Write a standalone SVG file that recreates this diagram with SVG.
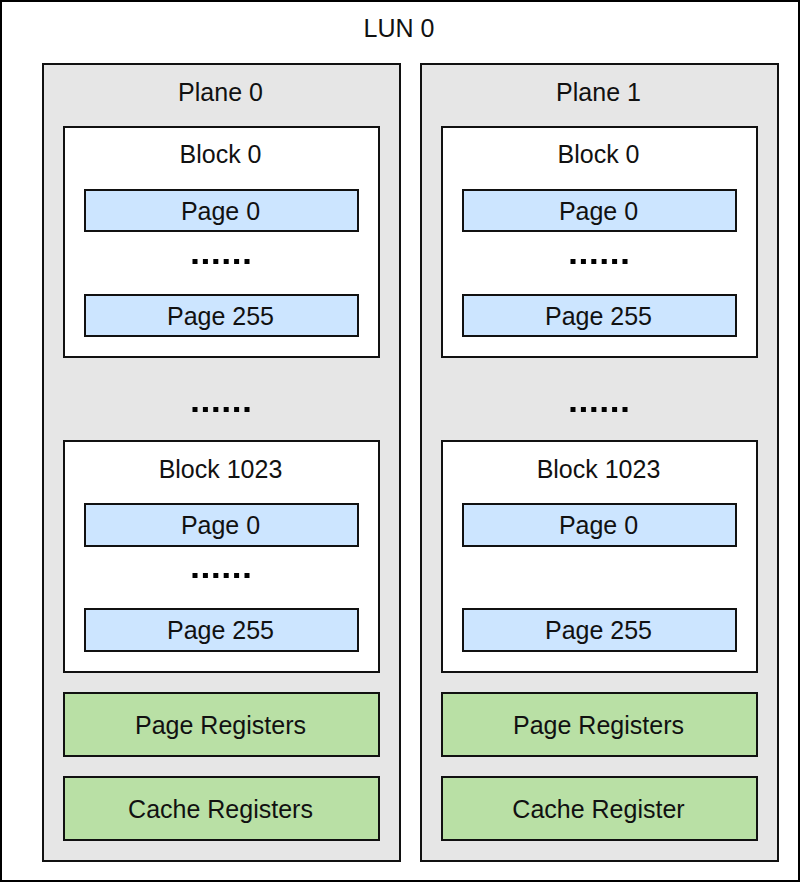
<svg xmlns="http://www.w3.org/2000/svg" width="800" height="883" viewBox="0 0 800 883">
<style>
text{font-family:"Liberation Sans",Arial,sans-serif;font-size:25px;fill:#111;text-anchor:middle}
.lun{fill:#fff;stroke:#000;stroke-width:2}
.plane{fill:#e6e6e6;stroke:#111;stroke-width:2}
.block{fill:#fff;stroke:#111;stroke-width:2}
.page{fill:#cce5ff;stroke:#111;stroke-width:2}
.reg{fill:#b9e0a5;stroke:#111;stroke-width:2}
.dot{fill:#000}
</style>
<defs>
<g id="dots">
<rect x="-28.5" y="0" width="5" height="5"/><rect x="-18.1" y="0" width="5" height="5"/><rect x="-7.7" y="0" width="5" height="5"/><rect x="2.7" y="0" width="5" height="5"/><rect x="13.1" y="0" width="5" height="5"/><rect x="23.5" y="0" width="5" height="5"/>
</g>
</defs>
<g id="lun0">
<rect class="lun" x="1" y="1" width="798" height="880"/>
<text x="399" y="37">LUN 0</text>
</g>
<g id="plane0">
<rect class="plane" x="43" y="64" width="357" height="797"/>
<text x="220.5" y="101">Plane 0</text>
<use href="#dots" x="221" y="407" class="dot"/>
</g>
<g id="plane1">
<rect class="plane" x="421" y="64" width="357" height="797"/>
<text x="598.5" y="101">Plane 1</text>
<use href="#dots" x="599" y="407" class="dot"/>
</g>
<g id="p0-block0">
<rect class="block" x="64" y="127" width="315" height="230"/>
<text x="220.5" y="163">Block 0</text>
<use href="#dots" x="221" y="259" class="dot"/>
</g>
<g id="p0-block0-page0"><rect class="page" x="85" y="190" width="273" height="41"/><text x="220.5" y="220">Page 0</text></g>
<g id="p0-block0-page255"><rect class="page" x="85" y="295" width="273" height="41"/><text x="220.5" y="325">Page 255</text></g>
<g id="p1-block0">
<rect class="block" x="442" y="127" width="315" height="230"/>
<text x="598.5" y="163">Block 0</text>
<use href="#dots" x="599" y="259" class="dot"/>
</g>
<g id="p1-block0-page0"><rect class="page" x="463" y="190" width="273" height="41"/><text x="598.5" y="220">Page 0</text></g>
<g id="p1-block0-page255"><rect class="page" x="463" y="295" width="273" height="41"/><text x="598.5" y="325">Page 255</text></g>
<g id="p0-block1023">
<rect class="block" x="64" y="441" width="315" height="231"/>
<text x="220.5" y="478">Block 1023</text>
<use href="#dots" x="221" y="573" class="dot"/>
</g>
<g id="p0-block1023-page0"><rect class="page" x="85" y="504" width="273" height="42"/><text x="220.5" y="534">Page 0</text></g>
<g id="p0-block1023-page255"><rect class="page" x="85" y="609" width="273" height="42"/><text x="220.5" y="639">Page 255</text></g>
<g id="p1-block1023">
<rect class="block" x="442" y="441" width="315" height="231"/>
<text x="598.5" y="478">Block 1023</text>
</g>
<g id="p1-block1023-page0"><rect class="page" x="463" y="504" width="273" height="42"/><text x="598.5" y="534">Page 0</text></g>
<g id="p1-block1023-page255"><rect class="page" x="463" y="609" width="273" height="42"/><text x="598.5" y="639">Page 255</text></g>
<g id="p0-pagereg"><rect class="reg" x="64" y="693" width="315" height="63"/><text x="220.5" y="734">Page Registers</text></g>
<g id="p0-cachereg"><rect class="reg" x="64" y="777" width="315" height="63"/><text x="220.5" y="818">Cache Registers</text></g>
<g id="p1-pagereg"><rect class="reg" x="442" y="693" width="315" height="63"/><text x="598.5" y="734">Page Registers</text></g>
<g id="p1-cachereg"><rect class="reg" x="442" y="777" width="315" height="63"/><text x="598.5" y="818">Cache Register</text></g>
<g id="connectors"/>
</svg>
